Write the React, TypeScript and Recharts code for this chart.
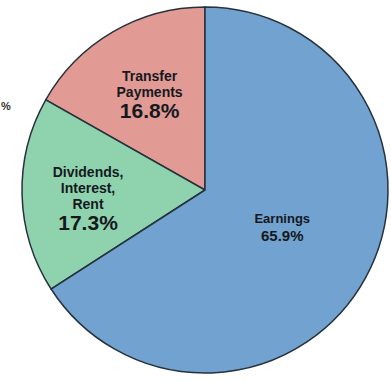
import {Cell, Pie, PieChart} from 'recharts';

const categories = ['Transfer Payments', 'Dividends, Interest, Rent', 'Earnings'];
const shares = [16.8, 17.3, 65.9];
const labelLines = [
  ['Transfer', 'Payments'],
  ['Dividends,', 'Interest,', 'Rent'],
  ['Earnings'],
];

const colors = ['#e29a94', '#8fd3ae', '#72a2cf'];
const labelRadius = [110, 117, 88];
const labelShiftY = [0, 6, -6];

const data = categories.map((name, i) => ({name, value: shares[i]}));

const RADIAN = Math.PI / 180;

function renderLabel(props: any) {
  const {cx, cy, midAngle, index} = props;
  const r = labelRadius[index];
  const x = cx + r * Math.cos(-midAngle * RADIAN);
  const y = cy + r * Math.sin(-midAngle * RADIAN) + labelShiftY[index];
  const lines = labelLines[index];
  const small = index === 2;
  const lineH = small ? 15 : 16;
  const pctSize = small ? 15 : 21;
  const nameSize = small ? 13 : 14;
  const total = lines.length * lineH + (small ? 16 : 20);
  const top = y - total / 2 + 12;
  return (
    <text x={x} y={top} textAnchor="middle" fill="#15191e" fontFamily="'Liberation Sans', Arial, sans-serif" fontWeight="bold">
      {lines.map((l, i) => (
        <tspan key={i} x={x} y={top + i * lineH} fontSize={nameSize}>{l}</tspan>
      ))}
      <tspan x={x} y={top + lines.length * lineH + (small ? 3 : 5)} fontSize={pctSize}>
        {shares[index].toFixed(1)}%
      </tspan>
    </text>
  );
}

export default function App() {
  return (
    <div style={{position: 'absolute', left: 0, top: 0, width: 391, height: 383, background: '#fff'}}>
      <PieChart width={391} height={383} margin={{top: 0, right: 0, bottom: 0, left: 0}}>
        <Pie
          data={data}
          dataKey="value"
          nameKey="name"
          cx={205}
          cy={190}
          outerRadius={183}
          startAngle={90}
          endAngle={450}
          stroke="#26323d"
          strokeWidth={1.5}
          label={renderLabel}
          labelLine={false}
          isAnimationActive={false}
        >
          {data.map((d, i) => (
            <Cell key={d.name} fill={colors[i]} />
          ))}
        </Pie>
        <text x={1} y={110} fontSize={11} fontWeight="bold" fill="#333" fontFamily="'Liberation Sans', Arial, sans-serif">
          %
        </text>
      </PieChart>
    </div>
  );
}
